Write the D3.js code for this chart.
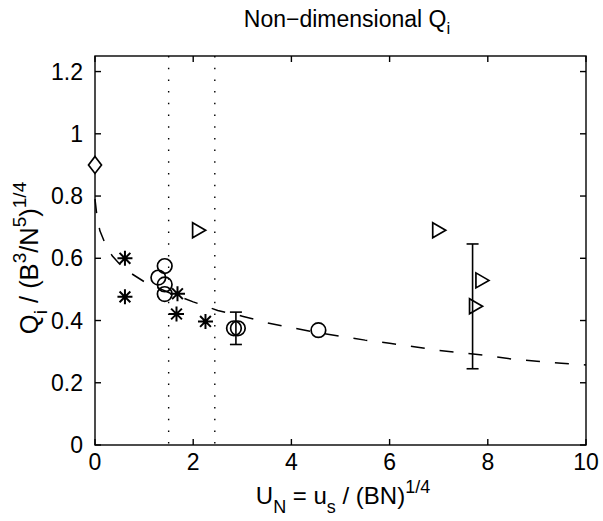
<!DOCTYPE html>
<html>
<head>
<meta charset="utf-8">
<script src="https://cdn.jsdelivr.net/npm/d3@7"></script>
<style>
  body { margin: 0; background: #fff; }
  text { font-family: "Liberation Sans", Arial, sans-serif; fill: #000; }
</style>
</head>
<body>
<div id="chart"></div>
<script>
// values
var xTicks = [0, 2, 4, 6, 8, 10];
var yTicks = [0, 0.2, 0.4, 0.6, 0.8, 1, 1.2];

var diamondX = [0];
var diamondY = [0.90];

var starX = [0.61, 0.61, 1.68, 1.66, 2.25];
var starY = [0.600, 0.476, 0.486, 0.421, 0.397];

var circleX = [1.42, 1.29, 1.42, 1.42, 2.83, 2.91, 4.55];
var circleY = [0.575, 0.538, 0.516, 0.485, 0.375, 0.375, 0.369];

var triX = [2.09, 6.98, 7.86, 7.73];
var triY = [0.690, 0.690, 0.529, 0.446];

var errX = [2.87, 7.69];
var errLo = [0.323, 0.245];
var errHi = [0.427, 0.646];

var dottedX = [1.5, 2.44];

var curveX = [0, 0.04, 0.1, 0.2, 0.35, 0.5, 0.75, 1, 1.5, 2, 2.5, 3, 3.5, 4, 4.5, 5, 5.5, 6, 6.5, 7, 7.5, 8, 8.5, 9, 9.5, 10];
var curveY = [0.79, 0.735, 0.688, 0.650, 0.608, 0.582, 0.550, 0.525, 0.490, 0.460, 0.432, 0.414, 0.393, 0.377, 0.362, 0.349, 0.337, 0.327, 0.316, 0.304, 0.296, 0.287, 0.276, 0.269, 0.263, 0.257];

var width = 603, height = 521;
var margin = { top: 56, right: 17, bottom: 76, left: 95 };
var graphWidth = width - margin.left - margin.right;
var graphHeight = height - margin.top - margin.bottom;

var svg = d3.select("#chart")
    .append("svg")
    .attr("width", width)
    .attr("height", height);

var g = svg.append("g")
    .attr("transform", `translate(${margin.left},${margin.top})`);

var x = d3.scaleLinear().domain([0, 10]).range([0, graphWidth]);
var y = d3.scaleLinear().domain([0, 1.25]).range([graphHeight, 0]);

// dotted verticals
g.selectAll(".dotted")
    .data(dottedX)
    .join("line")
    .attr("x1", d => x(d)).attr("x2", d => x(d))
    .attr("y1", 0).attr("y2", graphHeight)
    .attr("stroke", "#000")
    .attr("stroke-width", 1.4)
    .attr("stroke-dasharray", "1.5,10.2");

// dashed fit curve
var curve = curveX.map((d, i) => [d, curveY[i]]);
g.append("path")
    .datum(curve)
    .attr("d", d3.line().x(d => x(d[0])).y(d => y(d[1])))
    .attr("fill", "none")
    .attr("stroke", "#000")
    .attr("stroke-width", 1.5)
    .attr("stroke-dasharray", "14,15");

// box + ticks
g.append("rect")
    .attr("width", graphWidth).attr("height", graphHeight)
    .attr("fill", "none").attr("stroke", "#000").attr("stroke-width", 1.4);

var tl = 6;
xTicks.forEach(t => {
    g.append("line").attr("x1", x(t)).attr("x2", x(t)).attr("y1", graphHeight).attr("y2", graphHeight - tl)
        .attr("stroke", "#000").attr("stroke-width", 1.4);
    g.append("line").attr("x1", x(t)).attr("x2", x(t)).attr("y1", 0).attr("y2", tl)
        .attr("stroke", "#000").attr("stroke-width", 1.4);
    g.append("text").attr("x", x(t)).attr("y", graphHeight + 25)
        .attr("text-anchor", "middle").style("font-size", "23px").text(t);
});
yTicks.forEach(t => {
    g.append("line").attr("x1", 0).attr("x2", tl).attr("y1", y(t)).attr("y2", y(t))
        .attr("stroke", "#000").attr("stroke-width", 1.4);
    g.append("line").attr("x1", graphWidth).attr("x2", graphWidth - tl).attr("y1", y(t)).attr("y2", y(t))
        .attr("stroke", "#000").attr("stroke-width", 1.4);
    g.append("text").attr("x", -12).attr("y", y(t) + 8)
        .attr("text-anchor", "end").style("font-size", "23px").text(t);
});

// error bars
errX.forEach((d, i) => {
    var cx = x(d), cap = 6;
    g.append("line").attr("x1", cx).attr("x2", cx).attr("y1", y(errLo[i])).attr("y2", y(errHi[i]))
        .attr("stroke", "#000").attr("stroke-width", 1.6);
    [errLo[i], errHi[i]].forEach(v => {
        g.append("line").attr("x1", cx - cap).attr("x2", cx + cap).attr("y1", y(v)).attr("y2", y(v))
            .attr("stroke", "#000").attr("stroke-width", 1.6);
    });
});

var mk = { fill: "none", stroke: "#000", sw: 1.7 };

// circles
g.selectAll(".circ")
    .data(circleX.map((d, i) => [d, circleY[i]]))
    .join("circle")
    .attr("cx", d => x(d[0])).attr("cy", d => y(d[1])).attr("r", 7.3)
    .attr("fill", mk.fill).attr("stroke", mk.stroke).attr("stroke-width", mk.sw);

// stars: + and x combined
var s = 7.5, s2 = s * 0.72;
var starPath = `M${-s},0L${s},0M0,${-s}L0,${s}M${-s2},${-s2}L${s2},${s2}M${-s2},${s2}L${s2},${-s2}`;
g.selectAll(".star")
    .data(starX.map((d, i) => [d, starY[i]]))
    .join("path")
    .attr("transform", d => `translate(${x(d[0])},${y(d[1])})`)
    .attr("d", starPath)
    .attr("fill", "none").attr("stroke", "#000").attr("stroke-width", 2);

// right-pointing triangles
g.selectAll(".tri")
    .data(triX.map((d, i) => [d, triY[i]]))
    .join("path")
    .attr("transform", d => `translate(${x(d[0])},${y(d[1])})`)
    .attr("d", "M-5,-7.5L8,0L-5,7.5Z")
    .attr("fill", mk.fill).attr("stroke", mk.stroke).attr("stroke-width", mk.sw);

// diamond
g.selectAll(".dia")
    .data(diamondX.map((d, i) => [d, diamondY[i]]))
    .join("path")
    .attr("transform", d => `translate(${x(d[0])},${y(d[1])})`)
    .attr("d", "M0,-8.5L6.5,0L0,8.5L-6.5,0Z")
    .attr("fill", "#fff").attr("stroke", mk.stroke).attr("stroke-width", mk.sw);

// title
var title = svg.append("text").attr("x", 347).attr("y", 27)
    .attr("text-anchor", "middle").style("font-size", "23px");
title.append("tspan").text("Non\u2212dimensional Q");
title.append("tspan").attr("dy", 7).style("font-size", "17px").text("i");

// x label
var xl = svg.append("text").attr("x", 343).attr("y", 504)
    .attr("text-anchor", "middle").style("font-size", "24px");
xl.append("tspan").text("U");
xl.append("tspan").attr("dy", 9).style("font-size", "18px").text("N");
xl.append("tspan").attr("dy", -9).text(" = u");
xl.append("tspan").attr("dy", 9).style("font-size", "18px").text("s");
xl.append("tspan").attr("dy", -9).text(" / (BN)");
xl.append("tspan").attr("dy", -11).style("font-size", "18px").text("1/4");

// y label
var yl = svg.append("text")
    .attr("transform", "translate(38,258) rotate(-90)")
    .attr("text-anchor", "middle").style("font-size", "25.5px");
yl.append("tspan").text("Q");
yl.append("tspan").attr("dy", 9).style("font-size", "19px").text("i");
yl.append("tspan").attr("dy", -9).text(" / (B");
yl.append("tspan").attr("dy", -12).style("font-size", "19px").text("3");
yl.append("tspan").attr("dy", 12).text("/N");
yl.append("tspan").attr("dy", -12).style("font-size", "19px").text("5");
yl.append("tspan").attr("dy", 12).text(")");
yl.append("tspan").attr("dy", -12).style("font-size", "19px").text("1/4");
</script>
</body>
</html>
